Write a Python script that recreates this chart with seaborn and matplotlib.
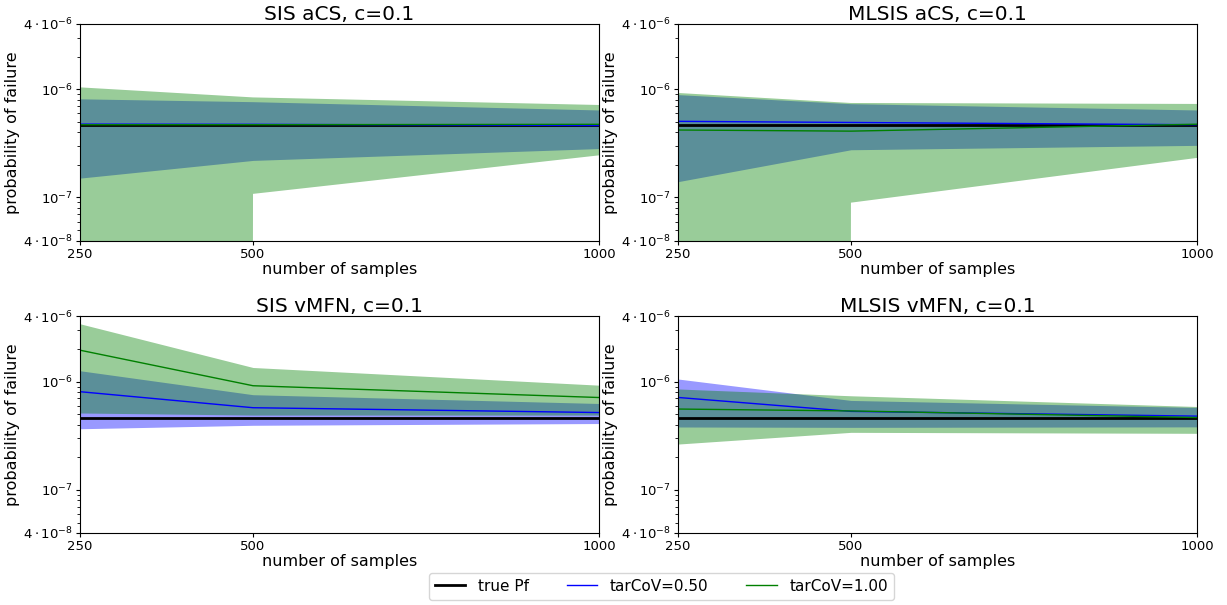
import numpy as np
import pandas as pd
import matplotlib
matplotlib.use("Agg")
import matplotlib.pyplot as plt
from matplotlib.ticker import FixedLocator, FixedFormatter, NullFormatter, LogLocator
import seaborn as sns

samples = [250, 500, 1000]
true_pf = 4.64e-7

titles = ["SIS aCS, c=0.1", "MLSIS aCS, c=0.1", "SIS vMFN, c=0.1", "MLSIS vMFN, c=0.1"]

# tarCoV = 0.50 (blue): mean, lower, upper
sis_acs_050_mean = [4.76e-7, 4.74e-7, 4.62e-7]
sis_acs_050_low = [1.51e-7, 2.2e-7, 2.83e-7]
sis_acs_050_up = [8.15e-7, 7.67e-7, 6.43e-7]
# tarCoV = 1.00 (green)
sis_acs_100_mean = [4.70e-7, 4.70e-7, 4.74e-7]
sis_acs_100_low = [-1.0e-7, 1.08e-7, 2.45e-7]
sis_acs_100_up = [1.04e-6, 8.4e-7, 7.15e-7]

mlsis_acs_050_mean = [5.05e-7, 4.93e-7, 4.70e-7]
mlsis_acs_050_low = [1.40e-7, 2.76e-7, 3.03e-7]
mlsis_acs_050_up = [8.91e-7, 7.35e-7, 6.43e-7]
mlsis_acs_100_mean = [4.20e-7, 4.10e-7, 4.75e-7]
mlsis_acs_100_low = [-1.0e-7, 8.96e-8, 2.32e-7]
mlsis_acs_100_up = [9.23e-7, 7.46e-7, 7.31e-7]

sis_vmfn_050_mean = [8.07e-7, 5.74e-7, 5.18e-7]
sis_vmfn_050_low = [3.67e-7, 3.95e-7, 4.10e-7]
sis_vmfn_050_up = [1.26e-6, 7.57e-7, 6.28e-7]
sis_vmfn_100_mean = [1.95e-6, 9.16e-7, 7.13e-7]
sis_vmfn_100_low = [5.13e-7, 4.91e-7, 4.91e-7]
sis_vmfn_100_up = [3.42e-6, 1.35e-6, 9.27e-7]

mlsis_vmfn_050_mean = [7.14e-7, 5.31e-7, 4.80e-7]
mlsis_vmfn_050_low = [3.81e-7, 3.78e-7, 3.82e-7]
mlsis_vmfn_050_up = [1.057e-6, 6.7e-7, 5.77e-7]
mlsis_vmfn_100_mean = [5.58e-7, 5.36e-7, 4.66e-7]
mlsis_vmfn_100_low = [2.65e-7, 3.40e-7, 3.33e-7]
mlsis_vmfn_100_up = [8.55e-7, 7.4e-7, 5.89e-7]

panels = [
    (sis_acs_050_mean, sis_acs_050_low, sis_acs_050_up, sis_acs_100_mean, sis_acs_100_low, sis_acs_100_up),
    (mlsis_acs_050_mean, mlsis_acs_050_low, mlsis_acs_050_up, mlsis_acs_100_mean, mlsis_acs_100_low, mlsis_acs_100_up),
    (sis_vmfn_050_mean, sis_vmfn_050_low, sis_vmfn_050_up, sis_vmfn_100_mean, sis_vmfn_100_low, sis_vmfn_100_up),
    (mlsis_vmfn_050_mean, mlsis_vmfn_050_low, mlsis_vmfn_050_up, mlsis_vmfn_100_mean, mlsis_vmfn_100_low, mlsis_vmfn_100_up),
]

ytick_vals = [4e-8, 1e-7, 1e-6, 4e-6]
ytick_labels = [r"$4\cdot10^{-8}$", r"$10^{-7}$", r"$10^{-6}$", r"$4\cdot10^{-6}$"]

plt.rcParams['font.family'] = ['DejaVu Sans']
plt.rcParams['mathtext.fontset'] = 'dejavusans'

fig, axes = plt.subplots(2, 2, figsize=(12.27, 6.05), dpi=100)
fig.subplots_adjust(left=80/1227, right=1197/1227, top=1-24/605, bottom=1-533/605,
                    wspace=0.152, hspace=0.35)

for ax, title, (m5, l5, u5, m1, l1, u1) in zip(axes.flat, titles, panels):
    ax.set_yscale("log")
    ax.fill_between(samples, l5, u5, color="blue", alpha=0.4, linewidth=0)
    ax.fill_between(samples, l1, u1, color="green", alpha=0.4, linewidth=0)
    sns.lineplot(x=samples, y=[true_pf] * len(samples), ax=ax, color="black", linewidth=2, label="true Pf")
    sns.lineplot(x=samples, y=m5, ax=ax, color="blue", linewidth=1, label="tarCoV=0.50")
    sns.lineplot(x=samples, y=m1, ax=ax, color="green", linewidth=1, label="tarCoV=1.00")
    ax.set_xlim(250, 1000)
    ax.set_ylim(4e-8, 4e-6)
    ax.set_xticks(samples)
    ax.set_xticklabels([str(s) for s in samples])
    ax.yaxis.set_major_locator(FixedLocator(ytick_vals))
    ax.yaxis.set_major_formatter(FixedFormatter(ytick_labels))
    ax.yaxis.set_minor_locator(LogLocator(base=10, subs=np.arange(2, 10)))
    ax.yaxis.set_minor_formatter(NullFormatter())
    ax.tick_params(axis="both", which="major", labelsize=9.5, pad=2, length=3)
    ax.tick_params(axis="y", which="minor", length=2)
    ax.set_xlabel("number of samples", fontsize=11.5, labelpad=1)
    ax.set_ylabel("probability of failure", fontsize=11.5, labelpad=2)
    ax.set_title(title, fontsize=14.5, pad=2)
    handles, labels = ax.get_legend_handles_labels()
    ax.get_legend().remove()

fig.legend(handles, labels, loc="lower center", bbox_to_anchor=(0.539, -0.004), ncol=3,
           fontsize=11, frameon=True, columnspacing=2.5)

fig.savefig("out.png", dpi=100)
